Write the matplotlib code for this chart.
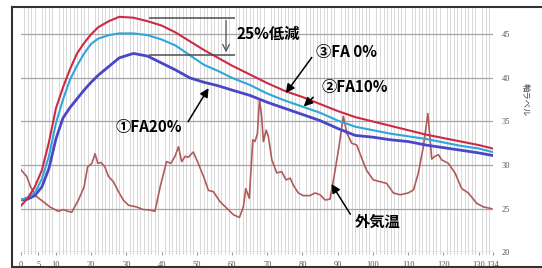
import matplotlib.pyplot as plt
from matplotlib.lines import Line2D
from matplotlib.ticker import MultipleLocator

plt.rcParams['font.family'] = ['Noto Sans CJK JP', 'DejaVu Sans']

# time axis for the three concrete curves
x_fa = [0, 2, 4, 6, 8, 10, 12, 14, 16, 18, 20, 22, 25, 28, 32, 36, 40, 44, 48, 52,
        56, 60, 65, 70, 75, 80, 85, 90, 95, 100, 105, 110, 115, 120, 125, 130, 134]
fa0 = [25.3, 26.2, 27.5, 29.4, 32.6, 36.5, 38.9, 41.0, 42.8, 44.0, 45.0, 45.8, 46.5, 47.0,
       46.9, 46.5, 46.0, 45.2, 44.2, 43.2, 42.3, 41.4, 40.4, 39.4, 38.5, 37.8, 37.0, 36.2,
       35.5, 35.0, 34.5, 34.0, 33.5, 33.1, 32.7, 32.3, 31.9]
fa10 = [26.0, 26.3, 26.8, 28.4, 31.0, 34.8, 37.5, 39.8, 41.4, 42.8, 43.9, 44.5, 44.9, 45.1,
        45.1, 44.9, 44.4, 43.7, 42.6, 41.5, 40.8, 40.0, 39.2, 38.2, 37.4, 36.7, 36.0, 35.1,
        34.4, 34.0, 33.6, 33.3, 33.0, 32.6, 32.2, 31.9, 31.5]
fa20 = [26.0, 26.1, 26.5, 27.5, 29.6, 33.0, 35.4, 36.6, 37.6, 38.6, 39.5, 40.3, 41.3, 42.3,
        42.8, 42.5, 41.7, 40.9, 40.0, 39.5, 39.1, 38.6, 38.0, 37.2, 36.5, 35.8, 35.1, 34.2,
        33.4, 33.2, 32.9, 32.7, 32.3, 32.0, 31.7, 31.4, 31.1]

# outdoor temperature
x_out = [0, 1.7, 2.8, 4.5, 6.4, 8.3, 10.7, 12.1, 13.5, 14.5, 16.4, 18, 19, 20.2, 21.1, 21.9,
         22.8, 23.9, 24.9, 26.3, 27.7, 29.1, 30.6, 32.9, 34.8, 36.7, 38.1, 39.6, 41.4, 42.6,
         43.8, 44.8, 45.7, 46.7, 47.6, 49, 50.4, 51.9, 53.3, 54.7, 56.6, 58.5, 60.4, 62.1,
         63.2, 63.9, 64.9, 65.9, 66.5, 67.2, 67.8, 68.4, 68.9, 69.7, 70.3, 71.3, 72.7, 74.1,
         75.3, 76.5, 77.4, 78.8, 80.2, 82.1, 83.6, 85, 86.4, 87.8, 88.8, 90.2, 91.6, 92.6,
         94, 95.4, 96.8, 98.2, 100.1, 102, 103.9, 105.8, 107.7, 110, 111.5, 112.9, 114.3,
         115.6, 116.7, 117.6, 118.6, 119.5, 121.4, 123.3, 125.2, 127.1, 129.5, 131.4, 133.7]
t_out = [29.5, 28.7, 27.5, 26.4, 25.8, 25.2, 24.7, 24.9, 24.7, 24.6, 26.0, 27.5, 29.8, 30.2,
         31.3, 30.2, 30.3, 29.8, 28.7, 28.1, 27.0, 26.0, 25.4, 25.2, 24.9, 24.85, 24.7, 27.5,
         30.4, 30.2, 31.0, 32.1, 30.4, 31.0, 30.9, 31.5, 30.2, 28.7, 27.1, 26.95, 25.8, 25.05,
         24.3, 24.0, 25.2, 27.3, 26.2, 32.9, 32.7, 33.6, 37.5, 35.6, 32.7, 34.0, 33.3, 30.6,
         29.1, 29.25, 28.3, 28.5, 27.7, 26.8, 26.5, 26.5, 26.8, 26.6, 26.0, 26.1, 28.3, 31.7,
         35.6, 33.65, 32.5, 32.3, 30.8, 29.4, 28.3, 28.1, 27.9, 26.8, 26.6, 26.8, 27.15, 29.1,
         32.1, 35.9, 30.7, 31.0, 31.2, 30.6, 30.2, 29.1, 27.3, 26.8, 25.6, 25.2, 25.0]

x_ticks = [0, 5, 10, 20, 30, 40, 50, 60, 70, 80, 90, 100, 110, 120, 130, 134]
y_ticks = [20, 25, 30, 35, 40, 45]

W, H = 542, 268
fig = plt.figure(figsize=(W / 100, H / 100), dpi=100)
ax = fig.add_axes([20.7 / W, 1 - 252.3 / H, (492.7 - 20.7) / W, (252.3 - 8.1) / H])
ax.set_xlim(0, 134)
ax.set_ylim(20, 48)

ax.xaxis.set_minor_locator(MultipleLocator(1))
ax.grid(which='minor', axis='x', color='#d2d2d2', lw=0.6)
ax.set_yticks(y_ticks)
ax.grid(which='major', axis='y', color='#a5a5a5', lw=0.9)
ax.set_axisbelow(True)
for s in ax.spines.values():
    s.set_visible(False)
ax.axhline(20, color='#999999', lw=0.8, ls=(0, (2, 1)))

ax.set_xticks(x_ticks)
ax.set_xticklabels([str(v) for v in x_ticks])
ax.tick_params(axis='x', which='major', length=2, color='#999999', labelsize=6,
               labelcolor='#555555', pad=4)
ax.tick_params(axis='x', which='minor', length=1.5, color='#bbbbbb')
ax.tick_params(axis='y', left=False, labelleft=False, right=False, labelright=True,
               labelsize=6, labelcolor='#555555', pad=3)
for lab in ax.get_xticklabels() + ax.get_yticklabels():
    lab.set_family('Liberation Serif')

ax.plot(x_out, t_out, color='#b05a5a', lw=1.2)
ax.plot(x_fa, fa20, color='#4a46c8', lw=2.0)
ax.plot(x_fa, fa10, color='#2ea6da', lw=1.5)
ax.plot(x_fa, fa0, color='#cc2a45', lw=1.5)

# 25% reduction marker
ax.hlines([46.9, 42.6], 36.5, 60.7, colors='#4d4d4d', lw=1.1, zorder=6)
ax.annotate('', xy=(58.3, 42.6), xytext=(58.3, 46.9),
            arrowprops=dict(arrowstyle='->', color='#555555', lw=0.9, mutation_scale=12))
ax.text(61.3, 45.0, '25%低減', fontsize=11, fontweight='bold', va='center', ha='left')

lab_kw = dict(fontsize=11, fontweight='bold', va='center', ha='left')
arr = dict(arrowstyle='-|>', color='black', lw=1.1, mutation_scale=13)
ax.text(83.8, 43.0, '③FA 0%', **lab_kw)
ax.annotate('', xy=(74.8, 38.0), xytext=(83.1, 42.6), arrowprops=arr)
ax.text(85.5, 38.9, '②FA10%', **lab_kw)
ax.annotate('', xy=(79.8, 36.5), xytext=(83.6, 38.0), arrowprops=arr)
ax.text(26.8, 34.4, '①FA20%', **lab_kw)
ax.annotate('', xy=(53.75, 39.1), xytext=(47.1, 34.7), arrowprops=arr)
ax.text(94.9, 23.5, '外気温', **lab_kw)
ax.annotate('', xy=(87.8, 28.1), xytext=(94.0, 24.1), arrowprops=arr)

fig.text(525 / W, 1 - 100 / H, '軸ラベル', rotation=-90, fontsize=6, color='#444444',
         ha='center', va='center')

# outer frame
fc = '#333333'
fig.add_artist(Line2D([12 / W, 12 / W], [1 - 267 / H, 1 - 7 / H], color=fc, lw=1.5))
fig.add_artist(Line2D([12 / W, 1], [1 - 7 / H, 1 - 7 / H], color=fc, lw=1.5))
fig.add_artist(Line2D([12 / W, 1], [1 - 267 / H, 1 - 267 / H], color=fc, lw=1.5))

fig.savefig('out.png', dpi=100)
